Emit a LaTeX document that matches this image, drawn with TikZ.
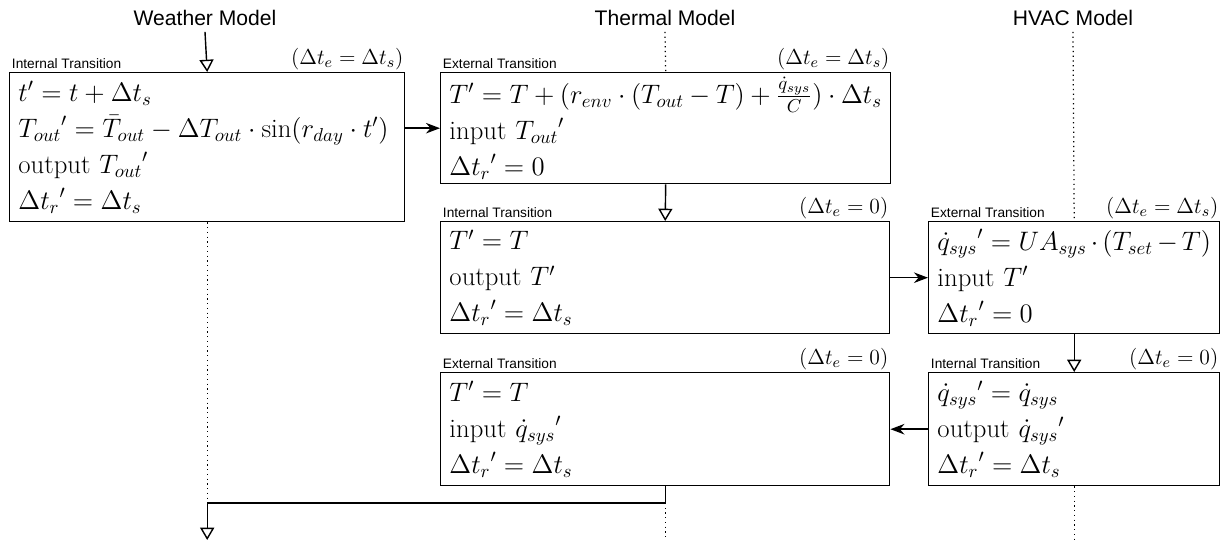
\RequirePackage{fix-cm}
\documentclass[tikz,border=0pt]{standalone}
\usepackage{amsmath}
\usepackage{fontspec}
\newfontfamily\arialfont{Liberation Sans}
\usetikzlibrary{arrows.meta,positioning}

\begin{document}
\begin{tikzpicture}[x=0.02cm, y=-0.02cm,
    box/.style={draw, line width=0.8pt, anchor=north west, align=left, inner xsep=5pt, inner ysep=0pt,
        font=\fontsize{15.2}{20.5}\selectfont},
    title/.style={font=\arialfont\fontsize{12}{14}\selectfont},
    lbl/.style={font=\arialfont\fontsize{7.8}{9}\selectfont, inner sep=1.5pt},
    cond/.style={font=\fontsize{12.3}{14}\selectfont, inner sep=1pt},
    flow/.style={line width=0.8pt, -{Triangle[open, length=7pt, width=8pt]}},
    msg/.style={line width=0.8pt, -{Stealth[length=8pt, width=6pt]}},
    life/.style={line width=0.7pt, dotted}]
    \useasboundingbox (0,0) rectangle (1227,542);

    % model titles
    \node[title] (wtitle) at (205,18) {Weather Model};
    \node[title] (thtitle) at (665,18) {Thermal Model};
    \node[title] (hvtitle) at (1073,18) {HVAC Model};

    % transition boxes
    \node[box, text width=7.55cm, minimum height=2.98cm] (wx) at (9,72) {%
        $t' = t + \Delta t_s$\\
        ${T_{out}}' = \bar{T}_{out} - \Delta T_{out} \cdot \sin(r_{day} \cdot t')$\\
        output ${T_{out}}'$\\
        ${\Delta t_r}' = \Delta t_s$};
    \node[box, text width=8.65cm, minimum height=2.22cm] (t1) at (440,72) {%
        $T' = T + (r_{env} \cdot (T_{out} - T) + \frac{\dot{q}_{sys}}{C}) \cdot \Delta t_s$\\
        input ${T_{out}}'$\\
        ${\Delta t_r}' = 0$};
    \node[box, text width=8.63cm, minimum height=2.24cm] (t2) at (440,221) {%
        $T' = T$\\
        output $T'$\\
        ${\Delta t_r}' = \Delta t_s$};
    \node[box, text width=5.47cm, minimum height=2.24cm] (h1) at (928,221) {%
        ${\dot{q}_{sys}{}}' = UA_{sys} \cdot (T_{set} - T)$\\
        input $T'$\\
        ${\Delta t_r}' = 0$};
    \node[box, text width=5.47cm, minimum height=2.26cm] (h2) at (928,372) {%
        ${\dot{q}_{sys}{}}' = \dot{q}_{sys}$\\
        output ${\dot{q}_{sys}{}}'$\\
        ${\Delta t_r}' = \Delta t_s$};
    \node[box, text width=8.63cm, minimum height=2.26cm] (t3) at (440,372) {%
        $T' = T$\\
        input ${\dot{q}_{sys}{}}'$\\
        ${\Delta t_r}' = \Delta t_s$};

    % box labels
    \node[lbl, above right=0pt of wx.north west] (wxl) {Internal Transition};
    \node[cond, above left=0pt of wx.north east] (wxc) {$(\Delta t_e = \Delta t_s)$};
    \node[lbl, above right=0pt of t1.north west] (t1l) {External Transition};
    \node[cond, above left=0pt of t1.north east] (t1c) {$(\Delta t_e = \Delta t_s)$};
    \node[lbl, above right=0pt of t2.north west] (t2l) {Internal Transition};
    \node[cond, above left=0pt of t2.north east] (t2c) {$(\Delta t_e = 0)$};
    \node[lbl, above right=0pt of h1.north west] (h1l) {External Transition};
    \node[cond, above left=0pt of h1.north east] (h1c) {$(\Delta t_e = \Delta t_s)$};
    \node[lbl, above right=0pt of h2.north west] (h2l) {Internal Transition};
    \node[cond, above left=0pt of h2.north east] (h2c) {$(\Delta t_e = 0)$};
    \node[lbl, above right=0pt of t3.north west] (t3l) {External Transition};
    \node[cond, above left=0pt of t3.north east] (t3c) {$(\Delta t_e = 0)$};

    \coordinate (jn) at (0,503);
    \coordinate (bot) at (0,540);

    % life lines
    \draw[life] (thtitle.south) -- (t1.north);
    \draw[life] (hvtitle.south) -- (h1.north);
    \draw[life] (wx.south) -- (wx.south |- jn);
    \draw[life] (t3.south |- jn) -- (t3.south |- bot);
    \draw[life] (h2.south) -- (h2.south |- bot);

    % control flow and messages
    \draw[flow] (wtitle.south) -- (wx.north);
    \draw[msg] (wx.east |- t1.west) -- (t1.west);
    \draw[flow] (t1.south) -- (t2.north);
    \draw[msg] (t2.east) -- (h1.west);
    \draw[flow] (h1.south) -- (h2.north);
    \draw[msg] (h2.west) -- (t3.east);
    \draw[flow] (t3.south) |- (wx.south |- jn) -- (wx.south |- bot);
\end{tikzpicture}
\end{document}
